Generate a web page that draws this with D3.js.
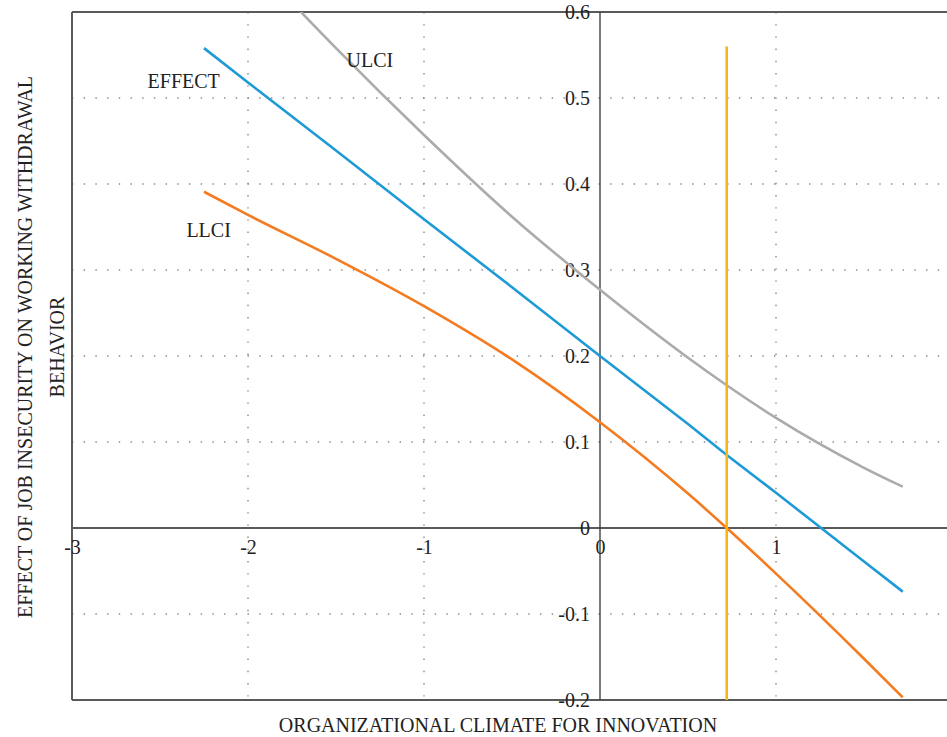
<!DOCTYPE html>
<html>
<head>
<meta charset="utf-8">
<script src="https://cdn.jsdelivr.net/npm/d3@7"></script>
<style>
  body { margin: 0; background: #fff; }
  text { font-family: "Liberation Serif", "DejaVu Serif", serif; fill: #222; }
</style>
</head>
<body>
<div id="chart"></div>
<script>
// moderator values
const xVals  = [-2.25, -2, -1.5, -1, -0.5, 0, 0.5, 0.72, 1, 1.5, 1.72];
const effect = [0.558, 0.518, 0.439, 0.359, 0.28, 0.2, 0.121, 0.085, 0.041, -0.039, -0.074];
const llci   = [0.391, 0.364, 0.313, 0.258, 0.196, 0.123, 0.04, 0.0, -0.053, -0.152, -0.197];
const ulci   = [0.72, 0.665, 0.558, 0.457, 0.362, 0.277, 0.198, 0.166, 0.128, 0.07, 0.048];

// Johnson-Neyman point
const jnX = 0.72, jnTop = 0.56;

const xTicks = [-3, -2, -1, 0, 1];
const yTicks = [-0.2, -0.1, 0, 0.1, 0.2, 0.3, 0.4, 0.5, 0.6];
const xGrid = [-2, -1, 1, 2];
const yGrid = [-0.1, 0.1, 0.2, 0.3, 0.4, 0.5];

const width = 947, height = 737;

const svg = d3.select("#chart").append("svg")
  .attr("width", width)
  .attr("height", height);

const x = d3.scaleLinear().domain([-3, 2]).range([72, 952]);
const y = d3.scaleLinear().domain([-0.2, 0.6]).range([700, 12]);

svg.append("clipPath").attr("id", "plot")
  .append("rect")
  .attr("x", x(-3)).attr("y", y(0.6))
  .attr("width", x(2) - x(-3)).attr("height", y(-0.2) - y(0.6));

// dotted grid
svg.append("g").selectAll("line")
  .data(yGrid)
  .join("line")
  .attr("x1", x(-3)).attr("x2", x(2))
  .attr("y1", d => y(d)).attr("y2", d => y(d))
  .attr("stroke", "#888")
  .attr("stroke-width", 1.4)
  .attr("stroke-dasharray", "1.4,10.3");

svg.append("g").selectAll("line")
  .data(xGrid)
  .join("line")
  .attr("x1", d => x(d)).attr("x2", d => x(d))
  .attr("y1", y(0.6)).attr("y2", y(-0.2))
  .attr("stroke", "#888")
  .attr("stroke-width", 1.4)
  .attr("stroke-dasharray", "1.4,10.8");

// frame
const frame = svg.append("g").attr("stroke", "#5a5a5a").attr("stroke-width", 2).attr("fill", "none");
frame.append("line").attr("x1", x(-3)).attr("x2", x(2)).attr("y1", y(0.6)).attr("y2", y(0.6));
frame.append("line").attr("x1", x(-3)).attr("x2", x(2)).attr("y1", y(-0.2)).attr("y2", y(-0.2));
frame.append("line").attr("x1", x(-3)).attr("x2", x(-3)).attr("y1", y(0.6)).attr("y2", y(-0.2));
frame.append("line").attr("x1", x(-3)).attr("x2", x(2)).attr("y1", y(0)).attr("y2", y(0));
svg.append("line")
  .attr("x1", x(0)).attr("x2", x(0)).attr("y1", y(0.6)).attr("y2", y(-0.2))
  .attr("stroke", "#333").attr("stroke-width", 1.3);

// axes (labels only)
const xAxis = svg.append("g")
  .attr("transform", `translate(0,${y(0)})`)
  .call(d3.axisBottom(x).tickValues(xTicks).tickSize(0).tickPadding(12).tickFormat(d => String(d)));
const yAxis = svg.append("g")
  .attr("transform", `translate(${x(0)},0)`)
  .call(d3.axisLeft(y).tickValues(yTicks).tickSize(0).tickPadding(10).tickFormat(d => String(d)));
[xAxis, yAxis].forEach(a => {
  a.select(".domain").remove();
  a.selectAll("text")
    .attr("fill", "#222")
    .style("font-family", "'Liberation Serif', serif")
    .style("font-size", "20px");
});

// series
const rows = xVals.map((v, i) => ({ x: v, effect: effect[i], llci: llci[i], ulci: ulci[i] }));
const plot = svg.append("g").attr("clip-path", "url(#plot)");

const series = [
  { key: "ulci", color: "#ababab", curve: d3.curveMonotoneX },
  { key: "llci", color: "#f47b20", curve: d3.curveMonotoneX },
  { key: "effect", color: "#1e9ad6", curve: d3.curveLinear }
];

series.forEach(s => {
  plot.append("path")
    .datum(rows)
    .attr("fill", "none")
    .attr("stroke", s.color)
    .attr("stroke-width", 2.6)
    .attr("d", d3.line().x(d => x(d.x)).y(d => y(d[s.key])).curve(s.curve));
});

plot.append("line")
  .attr("x1", x(jnX)).attr("x2", x(jnX))
  .attr("y1", y(jnTop)).attr("y2", y(-0.2))
  .attr("stroke", "#fbb416")
  .attr("stroke-width", 2.6);

// line labels
const lab = svg.append("g").style("font-size", "20px");
lab.append("text").attr("x", x(-2.16)).attr("y", y(0.512)).attr("text-anchor", "end").text("EFFECT");
lab.append("text").attr("x", x(-1.44)).attr("y", y(0.536)).text("ULCI");
lab.append("text").attr("x", x(-2.35)).attr("y", y(0.338)).text("LLCI");

// axis titles
svg.append("text")
  .attr("x", 498).attr("y", 732)
  .attr("text-anchor", "middle")
  .style("font-size", "20px")
  .text("ORGANIZATIONAL CLIMATE FOR INNOVATION");

const yTitle = svg.append("text")
  .attr("transform", "translate(32,347) rotate(-90)")
  .attr("text-anchor", "middle")
  .style("font-size", "20px");
yTitle.append("tspan").attr("x", 0).attr("dy", 0).text("EFFECT OF JOB INSECURITY ON WORKING WITHDRAWAL");
yTitle.append("tspan").attr("x", 0).attr("dy", 32).text("BEHAVIOR");
</script>
</body>
</html>
